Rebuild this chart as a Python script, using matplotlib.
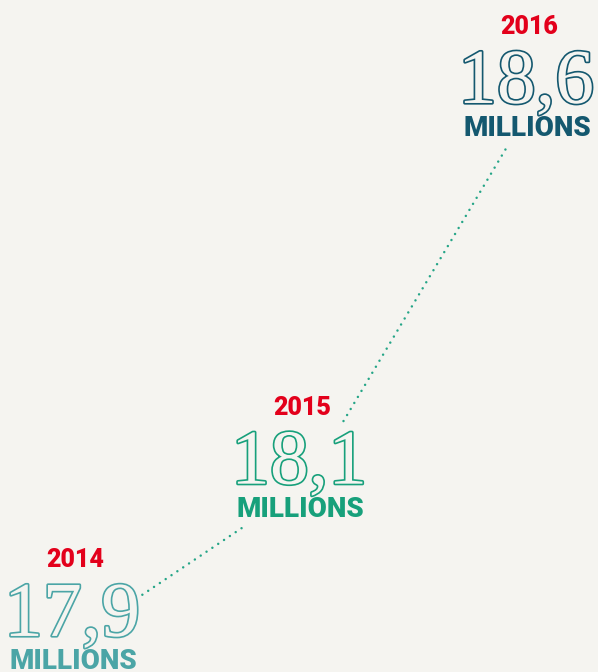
import matplotlib.pyplot as plt
import matplotlib.patheffects as pe
from matplotlib.transforms import ScaledTranslation

# data
years = [2014, 2015, 2016]
values = [17.9, 18.1, 18.6]
value_labels = ['17,9', '18,1', '18,6']
unit_label = 'MILLIONS'

# styles
bg = '#f5f4f0'
red = '#e3001b'
colors = ['#4ba5a6', '#17a07b', '#14586f']
dot_color = '#25a587'

fig = plt.figure(figsize=(5.98, 6.72), dpi=100, facecolor=bg)
ax = fig.add_axes([0, 0, 1, 1], facecolor=bg)
ax.set_xlim(2013.683, 2016.317)
ax.set_ylim(17.8185, 18.7011)
ax.axis('off')

# dotted connectors between the figures (trim fractions + downward shift in px)
trims = [(0.31, 0.755, 32), (0.196, 0.92, 38)]
for i, (t0, t1, off) in enumerate(trims):
    x0, y0 = years[i], values[i]
    x1, y1 = years[i + 1], values[i + 1]
    xs = [x0 + (x1 - x0) * t0, x0 + (x1 - x0) * t1]
    ys = [y0 + (y1 - y0) * t0, y0 + (y1 - y0) * t1]
    tr = ax.transData + ScaledTranslation(0, -off / 100, fig.dpi_scale_trans)
    ax.plot(xs, ys, color=dot_color, lw=1.8, linestyle=(0, (0.01, 2.8)),
            dash_capstyle='round', transform=tr)

for yr, v, lab, c in zip(years, values, value_labels, colors):
    # engraved-looking figures: outline in colour, hollow inside
    ax.annotate(lab, (yr, v), xytext=(0, -26), textcoords='offset pixels',
                ha='center', va='baseline', fontsize=56,
                family='Liberation Serif', color=bg,
                path_effects=[pe.withStroke(linewidth=2.4, foreground=c)])
    ax.annotate(str(yr), (yr, v), xytext=(3, 43), textcoords='offset pixels',
                ha='center', va='baseline', fontsize=18, fontweight='black',
                family='Roboto', color=red)
    ax.annotate(unit_label, (yr, v), xytext=(1, -59), textcoords='offset pixels',
                ha='center', va='baseline', fontsize=20, fontweight='black',
                family='Roboto', color=c)

fig.savefig('out.png', dpi=100, facecolor=bg)
